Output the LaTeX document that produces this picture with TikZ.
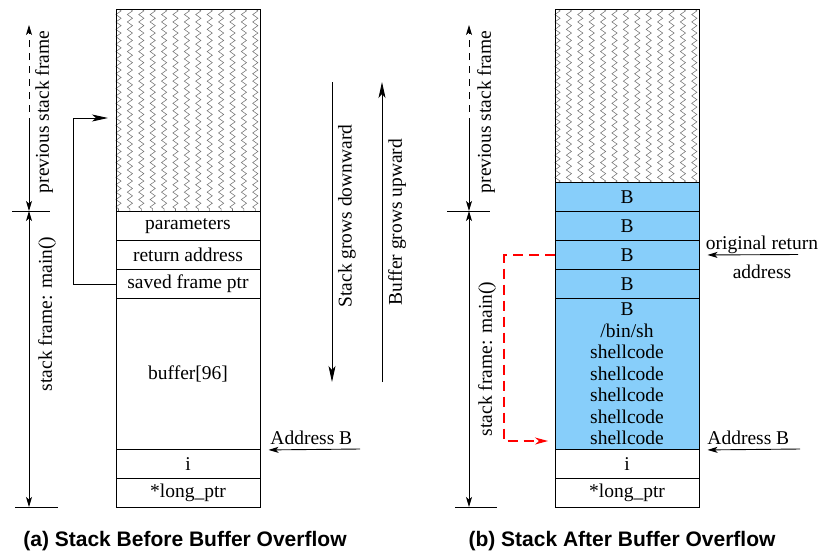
\documentclass[tikz,border=0pt]{standalone}
\usepackage{fontspec}
\setmainfont{Liberation Serif}
\newfontfamily\capfont{Liberation Sans}
\usetikzlibrary{arrows.meta,decorations.pathmorphing}
\definecolor{overflowblue}{HTML}{87CEFA}
\definecolor{hatchgrey}{gray}{0.45}

\begin{document}
\begin{tikzpicture}[x=1pt,y=-1pt,
  line width=0.9pt,
  >={Stealth[length=10pt,width=6pt,inset=2.5pt]},
  longtip/.tip={Stealth[length=16pt,width=7pt,inset=4pt]},
  redtip/.tip={Stealth[length=13pt,width=7pt,inset=4pt]},
  lbl/.style={font=\fontsize{19.5}{21.5}\selectfont, inner sep=0pt},
  cell/.style={draw, line width=1pt, minimum width=144pt, minimum height=29pt,
               inner sep=0pt, anchor=north west, lbl},
  blue cell/.style={cell, fill=overflowblue},
  hatch/.style={draw=hatchgrey, line width=0.55pt, decorate,
                decoration={zigzag, segment length=7.4pt, amplitude=2.6pt}},
  sidelabel/.style={lbl, rotate=90},
  caption/.style={font=\capfont\bfseries\fontsize{21}{24}\selectfont, inner sep=0pt},
  dimdash/.style={dash pattern=on 7pt off 6pt},
  reddash/.style={draw=red, line width=1.2pt, dash pattern=on 10pt off 6pt}
]
\useasboundingbox (0,0) rectangle (821,555);

% ---------- zigzag hatching of the caller's frames ----------
\begin{scope}
  \clip (115.5,9) rectangle (259.5,211);
  \foreach \k in {0,...,12} \draw[hatch] (118.5+\k*11.4,9) -- (118.5+\k*11.4,212);
\end{scope}
\begin{scope}
  \clip (554.5,9) rectangle (698.5,182);
  \foreach \k in {0,...,12} \draw[hatch] (557.5+\k*11.4,9) -- (557.5+\k*11.4,183);
\end{scope}

% ---------- (a) stack before the overflow ----------
\node[cell, minimum height=202pt] (prevL) at (115.5,9) {};
\node[cell] (paramL) at (115.5,211) {parameters};
\node[cell] (retL)   at (115.5,240) {return address};
\node[cell] (sfpL)   at (115.5,269) {saved frame ptr};
\node[cell, minimum height=151pt] (bufL) at (115.5,298) {buffer[96]};
\node[cell] (iL)     at (115.5,449) {i};
\node[cell] (lpL)    at (115.5,478) {*long\_ptr};

% saved frame pointer refers back into the previous frame
\coordinate (loopL) at (73,118);
\coordinate (hitL)  at (108,118);
\draw[-longtip] (sfpL.west) -| (loopL) -- (hitL);

% growth directions
\coordinate (sgTop) at (332,82);  \coordinate (sgBot) at (332,382);
\coordinate (bgTop) at (382,82);  \coordinate (bgBot) at (382,382);
\draw[-longtip] (sgTop) -- (sgBot);
\draw[-longtip] (bgBot) -- (bgTop);
\node[sidelabel] (sgText) at (347,216) {Stack grows downward};
\node[sidelabel] (bgText) at (397,222) {Buffer grows upward};

% address of the buffer
\coordinate (abTailL) at (360,449);
\node[lbl, anchor=base west] (abL) at (270,444) {Address B};
\draw[->, shorten >=8pt] (abTailL) -- (bufL.south east);

% frame extents
\coordinate (dTopL)  at (29,25);
\coordinate (dDashL) at (29,125);
\coordinate (dMidL)  at (29,211);
\coordinate (dBotL)  at (29,507);
\draw[->, dimdash] (dDashL) -- (dTopL);
\draw[->] (dDashL) -- (dMidL);
\draw[<->] (dMidL) -- (dBotL);
\coordinate (tMidA) at (12,211); \coordinate (tMidB) at (50,211);
\coordinate (tBotA) at (15,507); \coordinate (tBotB) at (58,507);
\draw (tMidA) -- (tMidB);
\draw (tBotA) -- (tBotB);
\node[sidelabel] (prevTextL) at (44,112) {previous stack frame};
\node[sidelabel] (mainTextL) at (47,314) {stack frame: main()};

\node[caption] (capA) at (185,541) {(a) Stack Before Buffer Overflow};

% ---------- (b) stack after the overflow ----------
\node[cell, minimum height=173pt] (prevR) at (554.5,9) {};
\node[blue cell] (bR1) at (554.5,182) {B};
\node[blue cell] (bR2) at (554.5,211) {B};
\node[blue cell] (bR3) at (554.5,240) {B};
\node[blue cell] (bR4) at (554.5,269) {B};
\node[blue cell, minimum height=151pt, align=center] (bufR) at (554.5,298)
  {B\\/bin/sh\\shellcode\\shellcode\\shellcode\\shellcode\\shellcode};
\node[cell] (iR)  at (554.5,449) {i};
\node[cell] (lpR) at (554.5,478) {*long\_ptr};

% overwritten return address now points into the buffer
\coordinate (rTurn) at (504,441);
\coordinate (rEnd)  at (548,441);
\draw[reddash, -{redtip[red]}] (bR3.west) -| (rTurn) -- (rEnd);

% labels on the right
\node[lbl, align=center, font=\fontsize{19.5}{29}\selectfont] (origR) at (762,257)
  {original return\\address};
\coordinate (orTail) at (798,254.5);
\draw[->, shorten >=8pt] (orTail) -- (bR3.east);

\coordinate (abTailR) at (800,449);
\node[lbl, anchor=base west] (abR) at (707,444) {Address B};
\draw[->, shorten >=8pt] (abTailR) -- (bufR.south east);

% frame extents
\coordinate (dTopR)  at (469,25);
\coordinate (dDashR) at (469,125);
\coordinate (dMidR)  at (469,211);
\coordinate (dBotR)  at (469,507);
\draw[->, dimdash] (dDashR) -- (dTopR);
\draw[->] (dDashR) -- (dMidR);
\draw[<->] (dMidR) -- (dBotR);
\coordinate (uMidA) at (447,211); \coordinate (uMidB) at (490,211);
\coordinate (uBotA) at (455,507); \coordinate (uBotB) at (497,507);
\draw (uMidA) -- (uMidB);
\draw (uBotA) -- (uBotB);
\node[sidelabel] (prevTextR) at (486,112) {previous stack frame};
\node[sidelabel] (mainTextR) at (487,359) {stack frame: main()};

\node[caption] (capB) at (622,541) {(b) Stack After Buffer Overflow};
\end{tikzpicture}
\end{document}
